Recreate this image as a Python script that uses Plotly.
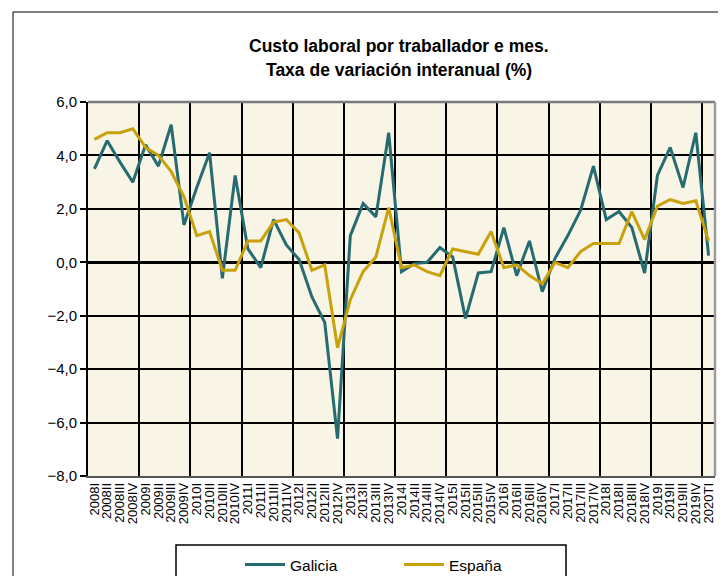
import plotly.graph_objects as go

years = list(range(2008, 2020))
quarters = ["I", "II", "III", "IV"]
labels = [f"{y}{q}" for y in years for q in quarters] + ["2020TI"]

galicia = [3.5, 4.55, 3.75, 3.0, 4.4, 3.6, 5.15, 1.4, 2.8, 4.1, -0.6, 3.25,
           0.5, -0.2, 1.6, 0.65, 0.1, -1.3, -2.25, -6.6, 1.0, 2.2, 1.7, 4.85,
           -0.35, -0.05, 0.0, 0.55, 0.2, -2.1, -0.4, -0.35, 1.3, -0.5, 0.8, -1.1,
           0.15, 1.0, 1.95, 3.6, 1.6, 1.9, 1.3, -0.4, 3.25, 4.3, 2.8, 4.85, 0.25]
espana = [4.6, 4.85, 4.85, 5.0, 4.3, 4.0, 3.4, 2.45, 1.0, 1.15, -0.3, -0.3,
          0.8, 0.8, 1.5, 1.6, 1.1, -0.3, -0.1, -3.2, -1.4, -0.35, 0.2, 2.05,
          -0.2, -0.1, -0.35, -0.5, 0.5, 0.4, 0.3, 1.15, -0.2, -0.1, -0.5, -0.8,
          0.0, -0.2, 0.4, 0.7, 0.7, 0.7, 1.9, 0.85, 2.1, 2.35, 2.2, 2.3, 0.8]

xs = list(range(len(labels)))
FONT = "Arial, Liberation Sans, sans-serif"

fig = go.Figure()
fig.add_trace(go.Scatter(x=xs, y=galicia, mode="lines", name="Galicia",
                         line=dict(color="#256B70", width=3)))
fig.add_trace(go.Scatter(x=xs, y=espana, mode="lines", name="España",
                         line=dict(color="#C9A10A", width=3)))

OFF = 8  # page body margin
W, H = 726 - OFF, 576 - OFF
L, R, T, B = 88 - OFF, 11, 102 - OFF, 100
pw, ph = W - L - R, H - T - B

def px(X):  # page x -> paper
    return (X - OFF - L) / pw

def py(Y):  # page y -> paper
    return (H - B - (Y - OFF)) / ph

fig.update_layout(
    width=W, height=H,
    margin=dict(l=L, r=R, t=T, b=B, autoexpand=False),
    paper_bgcolor="white",
    plot_bgcolor="#F8F4E6",
    separators=",.",
    font=dict(family=FONT, color="black"),
    showlegend=True,
    legend=dict(orientation="h", x=px(240), xanchor="left", y=py(548), yanchor="top",
                font=dict(family=FONT, size=15.5, color="black"),
                itemwidth=40, entrywidth=104, entrywidthmode="pixels",
                bgcolor="rgba(0,0,0,0)", borderwidth=0),
    xaxis=dict(range=[-0.5, len(labels) - 0.5], tickmode="array", tickvals=xs,
               ticktext=labels, tickangle=-90, ticks="", showgrid=False,
               tickfont=dict(family=FONT, size=13, color="black"),
               showline=True, linecolor="#555555", linewidth=1.5,
               zeroline=False,
               minor=dict(tick0=-0.5, dtick=4, showgrid=True,
                          gridcolor="black", gridwidth=1.5, ticks="")),
    yaxis=dict(range=[-8, 6], dtick=2, tick0=0, tickformat=".1f",
               showgrid=True, gridcolor="black", gridwidth=1.5,
               zeroline=True, zerolinecolor="black", zerolinewidth=2.5,
               showline=True, linecolor="black", linewidth=2,
               ticks="outside", ticklen=6, tickcolor="black", tickwidth=1.5,
               tickfont=dict(family=FONT, size=15, color="black")),
    annotations=[
        dict(text="<b>Custo laboral por traballador e mes.</b>", xref="paper", yref="paper",
             x=px(399), y=py(46), xanchor="center", yanchor="middle", showarrow=False,
             font=dict(family=FONT, size=17.5, color="black")),
        dict(text="<b>Taxa de variación interanual (%)</b>", xref="paper", yref="paper",
             x=px(399), y=py(70), xanchor="center", yanchor="middle", showarrow=False,
             font=dict(family=FONT, size=17.5, color="black")),
    ],
    shapes=[
        dict(type="line", xref="paper", yref="paper", x0=0, x1=1, y0=1, y1=1,
             line=dict(color="#7A7A7A", width=2.5)),
        dict(type="line", xref="paper", yref="paper", x0=1, x1=1, y0=0, y1=1,
             line=dict(color="#9A9A9A", width=2.5)),
        dict(type="rect", xref="paper", yref="paper", x0=px(176), x1=px(566),
             y0=py(600), y1=py(545), line=dict(color="black", width=1.5)),
        dict(type="rect", xref="paper", yref="paper", x0=px(13), x1=px(722),
             y0=py(620), y1=py(12), line=dict(color="black", width=1)),
    ],
)

fig.write_html("out.html")
